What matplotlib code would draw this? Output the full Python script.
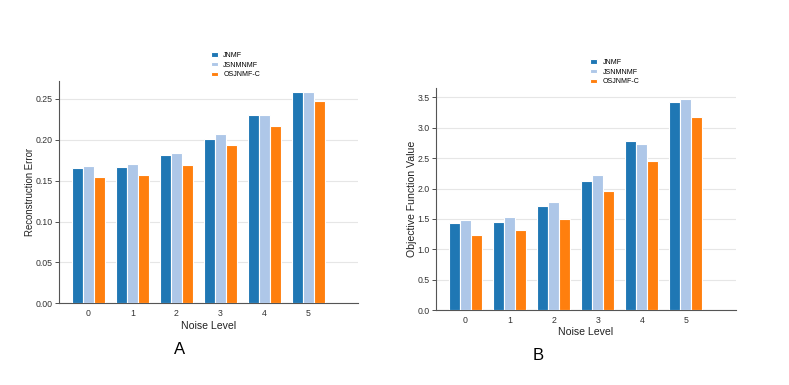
import numpy as np
import matplotlib
matplotlib.use('Agg')
import matplotlib.pyplot as plt

plt.rcParams['font.family'] = ['Liberation Sans', 'DejaVu Sans']

noise_levels = [0, 1, 2, 3, 4, 5]
methods = ['JNMF', 'JSNMNMF', 'OSJNMF-C']
colors = ['#1f77b4', '#aec7e8', '#ff7f0e']

recon_jnmf = [0.165, 0.167, 0.182, 0.201, 0.231, 0.258]
recon_jsnmnmf = [0.168, 0.171, 0.184, 0.207, 0.230, 0.259]
recon_osjnmf = [0.154, 0.157, 0.169, 0.194, 0.217, 0.248]

obj_jnmf = [1.44, 1.45, 1.71, 2.12, 2.78, 3.43]
obj_jsnmnmf = [1.48, 1.53, 1.77, 2.23, 2.74, 3.48]
obj_osjnmf = [1.23, 1.31, 1.50, 1.96, 2.45, 3.17]

fig = plt.figure(figsize=(7.89, 3.85), dpi=100)
ax1 = fig.add_axes([0.0748, 0.2122, 0.3789, 0.5774])
ax2 = fig.add_axes([0.5526, 0.1948, 0.3799, 0.5774])

x = np.arange(len(noise_levels))
w = 0.25


def draw(ax, series, ylabel, ylsize, ylim, yticks, fmt, leg_anchor):
    for i, (vals, name) in enumerate(zip(series, methods)):
        ax.bar(x + (i - 1) * w, vals, w, color=colors[i], edgecolor='white',
               linewidth=0.8, label=name, zorder=3)
    ax.set_xlim(-0.67, 6.13)
    ax.set_ylim(*ylim)
    ax.set_xticks(x)
    ax.set_xticklabels([str(n) for n in noise_levels])
    ax.set_yticks(yticks)
    ax.set_yticklabels([fmt.format(t) for t in yticks])
    ax.yaxis.grid(True, color='#e6e6e6', linewidth=0.8, zorder=0)
    ax.set_axisbelow(True)
    for s in ['top', 'right']:
        ax.spines[s].set_visible(False)
    for s in ['left', 'bottom']:
        ax.spines[s].set_color('#555555')
        ax.spines[s].set_linewidth(0.8)
    ax.tick_params(axis='x', length=0, labelsize=6.3, colors='#333333', pad=4)
    ax.tick_params(axis='y', length=3, width=0.6, labelsize=6.3, colors='#333333', pad=1.5)
    ax.set_xlabel('Noise Level', fontsize=7.6, color='#222222', labelpad=2)
    ax.set_ylabel(ylabel, fontsize=ylsize, color='#222222', labelpad=0.5)
    ax.legend(loc='upper left', bbox_to_anchor=leg_anchor, bbox_transform=fig.transFigure,
              frameon=False, fontsize=5, handlelength=1.0, handleheight=0.6,
              labelspacing=0.38, handletextpad=0.8, borderpad=0, borderaxespad=0)


draw(ax1, [recon_jnmf, recon_jsnmnmf, recon_osjnmf], 'Reconstruction Error', 6.9,
     (0, 0.272), [0, 0.05, 0.10, 0.15, 0.20, 0.25], '{:.2f}', (0.267, 1 - 52 / 385))
draw(ax2, [obj_jnmf, obj_jsnmnmf, obj_osjnmf], 'Objective Function Value', 7.6,
     (0, 3.66), [0, 0.5, 1.0, 1.5, 2.0, 2.5, 3.0, 3.5], '{:.1f}', (0.748, 1 - 59 / 385))

fig.text(180 / 789, 1 - 349 / 385, 'A', fontsize=12, ha='center', va='center',
         family=['Liberation Sans Narrow', 'Liberation Sans', 'DejaVu Sans'])
fig.text(538 / 789, 1 - 355 / 385, 'B', fontsize=12, ha='center', va='center',
         family=['Liberation Sans Narrow', 'Liberation Sans', 'DejaVu Sans'])

fig.savefig('out.png', dpi=100)
